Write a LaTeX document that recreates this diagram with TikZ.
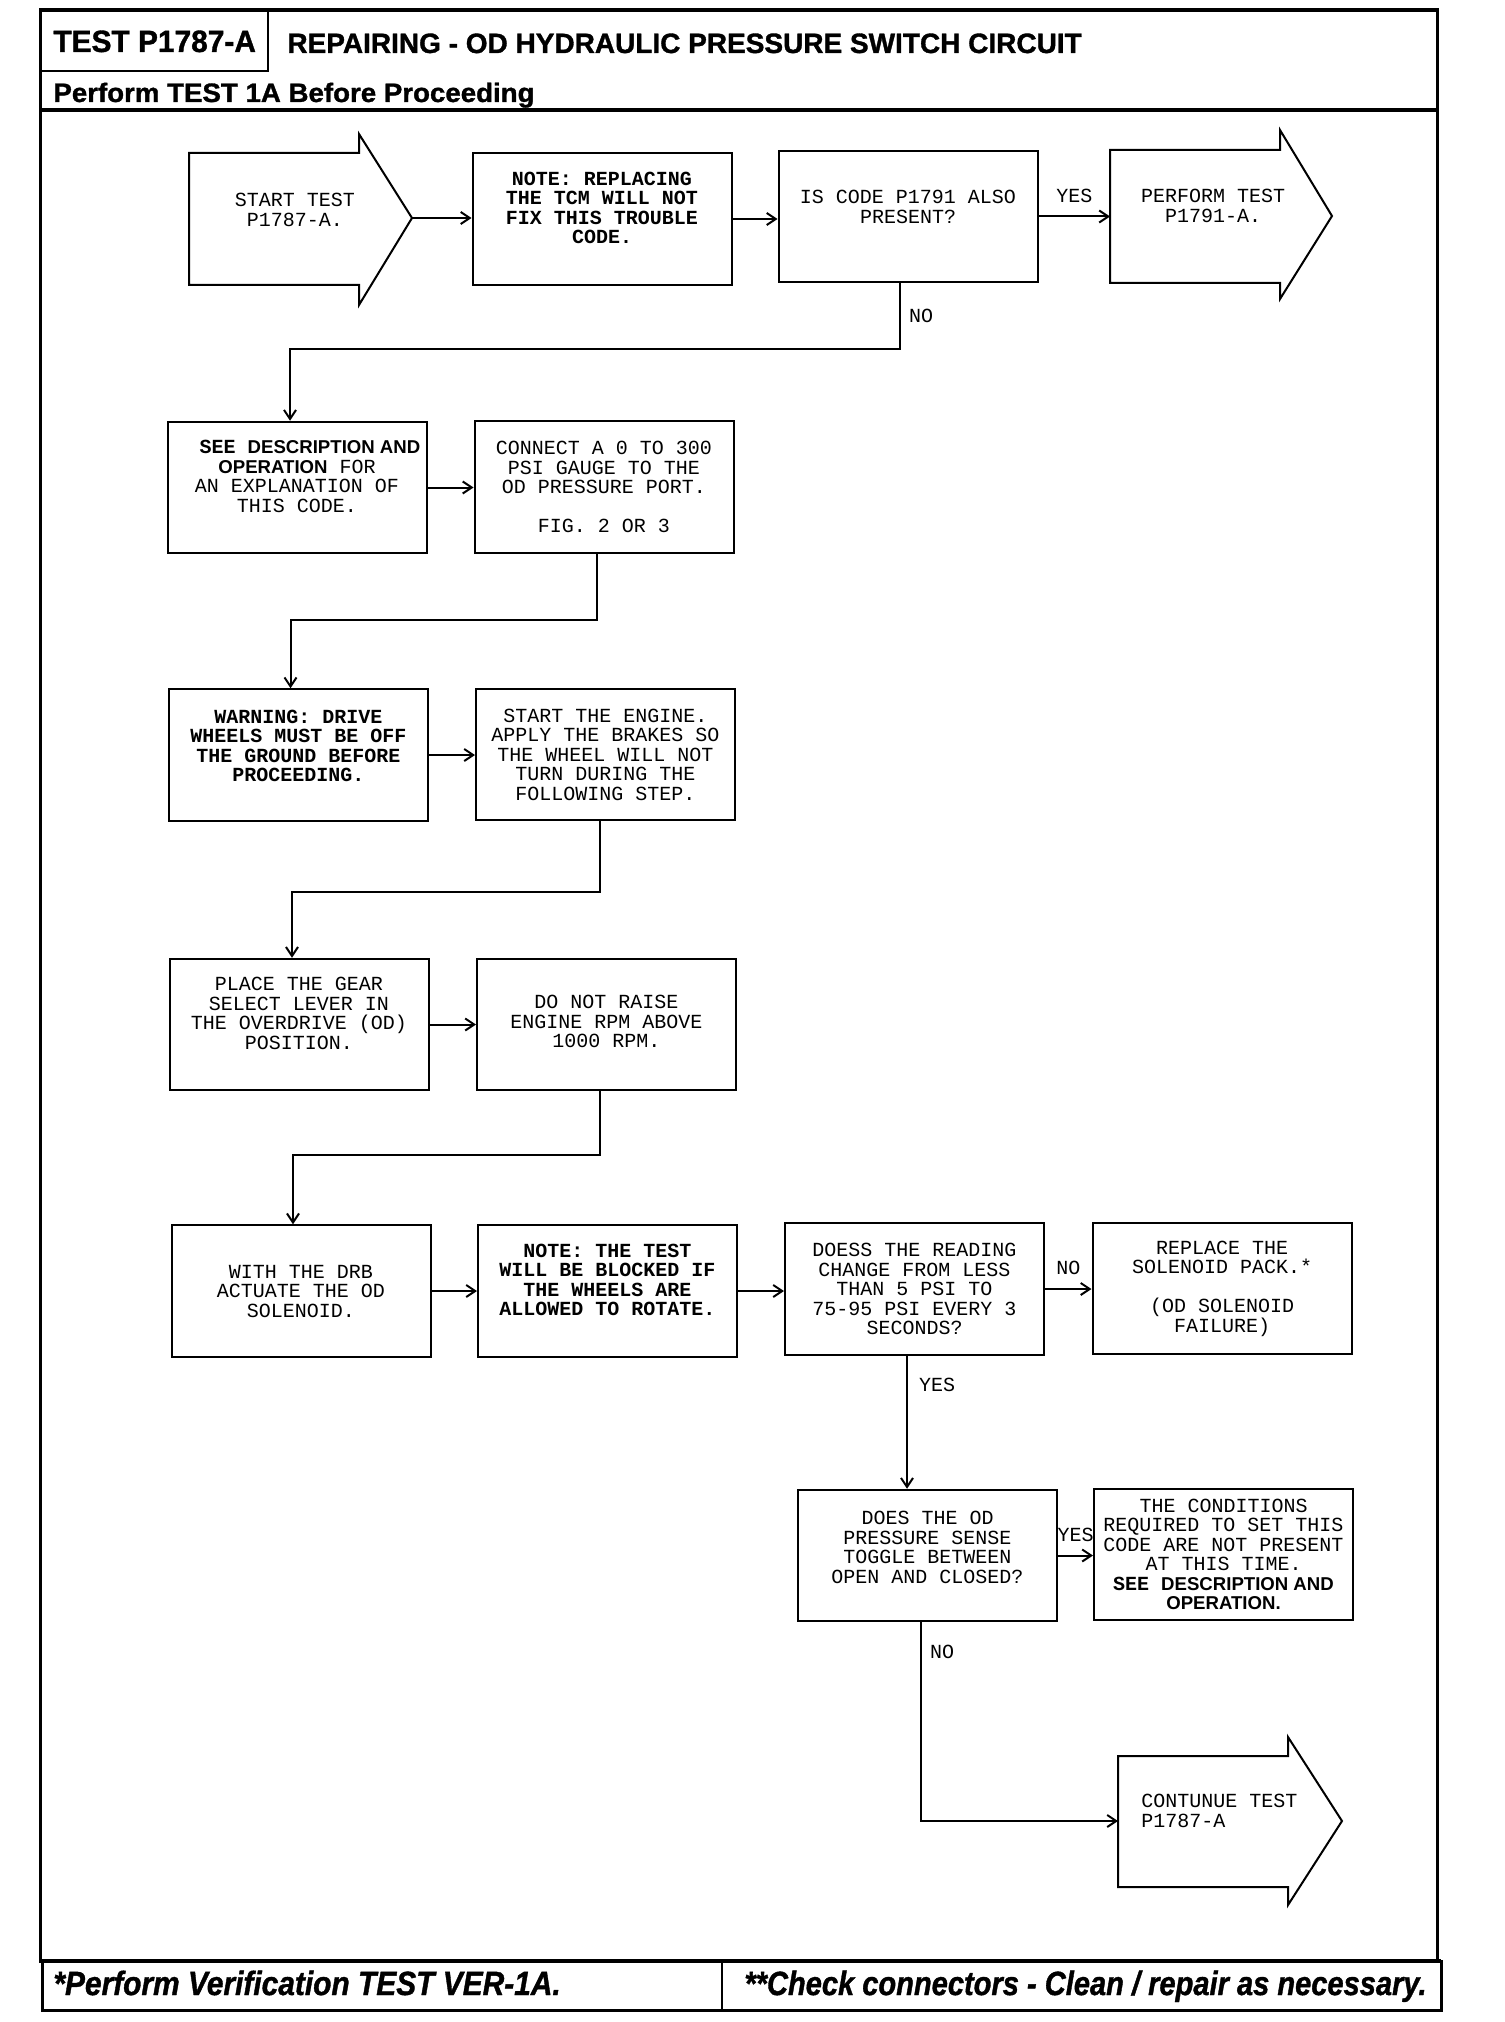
\documentclass[tikz,border=0pt]{standalone}
\usepackage{graphicx}
\usepackage{fontspec}
\newfontfamily\hdfont[FakeBold=1.2]{Liberation Sans}
\newfontfamily\sansfont{Liberation Sans}
\newfontfamily\boxfont{Liberation Mono}
\usetikzlibrary{arrows.meta}
\tikzset{>={Straight Barb[length=4.5pt,width=6pt]}}
\tikzset{
  box/.style={draw, line width=1pt, minimum width=129.5pt, minimum height=65.75pt,
    inner sep=0pt, align=center, font=\boxfont\fontsize{10}{9.75}\selectfont},
  notebox/.style={box, font=\boxfont\bfseries\fontsize{10}{9.75}\selectfont},
  lift/.style={text depth=#1},
  txt/.style={inner sep=0pt, font=\boxfont\fontsize{10}{9.75}\selectfont},
  lbl/.style={inner sep=2pt, font=\boxfont\fontsize{10}{10}\selectfont},
  link/.style={->, line width=1pt},
  bigarrow/.style={draw, line width=1pt},
  head/.style={anchor=base west, inner sep=0pt, font=\hdfont\bfseries\fontsize{#1}{#1}\selectfont},
}
\newcommand\hdsans[1]{{\sansfont\bfseries\fontsize{9.3}{9.75}\selectfont #1}}

\begin{document}
\begin{tikzpicture}[x=0.5pt,y=-0.5pt]
\useasboundingbox (0,0) rectangle (1504,2022);
% frame and header
\draw[line width=1.5pt] (40,10) rectangle (1437,1961);
\draw[line width=2pt] (40,10) -- (1437,10);
\draw[line width=1pt] (40,71) -- (268,71) -- (268,10);
\draw[line width=2pt] (40,110) -- (1437,110);
\node[head=15.4] (testid) at (53,52) {\scalebox{0.97}[1]{TEST P1787-A}};
\node[head=14] (title) at (287,53) {REPAIRING - OD HYDRAULIC PRESSURE SWITCH CIRCUIT};
\node[head=13.3] (pretest) at (53,102) {\scalebox{1.04}[1]{Perform TEST 1A Before Proceeding}};
% footer
\draw[line width=1.5pt] (42,1961) rectangle (1441,2010);
\draw[line width=2pt] (42,1961) -- (1441,1961);
\draw[line width=1pt] (722,1961) -- (722,2010);
\node[head=16.8] (verify) at (53,1995) {\itshape\scalebox{0.89}[1]{*Perform Verification TEST VER-1A.}};
\node[head=16.8] (check) at (744,1995) {\itshape\scalebox{0.865}[1]{**Check connectors - Clean / repair as necessary.}};

% first row
\draw[bigarrow] (189,153) -- (359,153) -- (359,134) -- (412,218) -- (359,305) -- (359,285) -- (189,285) -- cycle;
\node[txt, align=center] (start) at (295,210) {START TEST\\P1787-A.};
\coordinate (starttip) at (412,218);
\node[notebox, lift=11pt] (note) at (602,219) {NOTE: REPLACING\\THE TCM WILL NOT\\FIX THIS TROUBLE\\CODE.};
\node[box, lift=9.5pt] (code) at (908,216.5) {IS CODE P1791 ALSO\\PRESENT?};
\draw[bigarrow] (1110,150) -- (1280,150) -- (1280,130) -- (1332,216) -- (1280,299) -- (1280,283) -- (1110,283) -- cycle;
\node[txt, align=center] (perform) at (1213,206) {PERFORM TEST\\P1791-A.};
\coordinate (performin) at (1110,216.5);

% second row
\node[box, lift=11pt] (see) at (297,487.5) {\hspace*{13pt}{\bfseries SEE} \hdsans{DESCRIPTION AND}\\\hdsans{OPERATION} FOR\hspace*{43pt}\\AN EXPLANATION OF\\THIS CODE.};
\node[box] (connect) at (604,487) {CONNECT A 0 TO 300\\PSI GAUGE TO THE\\OD PRESSURE PORT.\\[9.75pt]FIG. 2 OR 3};

% third row
\node[notebox, lift=9pt] (warn) at (298.5,755) {WARNING: DRIVE\\WHEELS MUST BE OFF\\THE GROUND BEFORE\\PROCEEDING.};
\node[box] (engine) at (605.5,754.5) {START THE ENGINE.\\APPLY THE BRAKES SO\\THE WHEEL WILL NOT\\TURN DURING THE\\FOLLOWING STEP.};

% fourth row
\node[box, lift=11pt] (place) at (299,1024.5) {PLACE THE GEAR\\SELECT LEVER IN\\THE OVERDRIVE (OD)\\POSITION.};
\node[box, lift=3pt] (rpm) at (606.5,1024.5) {DO NOT RAISE\\ENGINE RPM ABOVE\\1000 RPM.};

% fifth row
\node[box] (drb) at (301,1291) {WITH THE DRB\\ACTUATE THE OD\\SOLENOID.};
\node[notebox, lift=11pt] (wheels) at (607.5,1291) {NOTE: THE TEST\\WILL BE BLOCKED IF\\THE WHEELS ARE\\ALLOWED TO ROTATE.};
\node[box] (reading) at (914.5,1289) {DOESS THE READING\\CHANGE FROM LESS\\THAN 5 PSI TO\\75-95 PSI EVERY 3\\SECONDS?};
\node[box] (solenoid) at (1222,1288.5) {REPLACE THE\\SOLENOID PACK.*\\[9.75pt](OD SOLENOID\\FAILURE)};

% sixth row
\node[box, lift=8pt] (sense) at (927.5,1555.5) {DOES THE OD\\PRESSURE SENSE\\TOGGLE BETWEEN\\OPEN AND CLOSED?};
\node[box] (cond) at (1223.5,1554.5) {THE CONDITIONS\\REQUIRED TO SET THIS\\CODE ARE NOT PRESENT\\AT THIS TIME.\\{\bfseries SEE} \hdsans{DESCRIPTION AND}\hspace*{11pt}\\\hdsans{OPERATION.}};
\draw[bigarrow] (1118,1756) -- (1288,1756) -- (1288,1737) -- (1342,1821) -- (1288,1905) -- (1288,1887) -- (1118,1887) -- cycle;
\node[txt, align=left, anchor=west] (contin) at (1141,1811) {CONTUNUE TEST\\P1787-A};
\coordinate (continin) at (1118,1821);

% connectors
\draw[link] (starttip) -- (starttip -| note.west);
\draw[link] (note.east) -- (note.east -| code.west);
\draw[link] (code.east) -- node[lbl, above=4.5pt] {YES} (performin);
\draw[link] ([xshift=-4pt]code.south) -- node[lbl, right=2pt] {NO} ++(0,66) -| ([xshift=-3.5pt]see.north);
\draw[link] (see.east) -- (see.east -| connect.west);
\draw[link] ([xshift=-3.5pt]connect.south) -- ++(0,66) -| ([xshift=-4pt]warn.north);
\draw[link] (warn.east) -- (warn.east -| engine.west);
\draw[link] ([xshift=-3pt]engine.south) -- ++(0,71) -| ([xshift=-3.5pt]place.north);
\draw[link] (place.east) -- (place.east -| rpm.west);
\draw[link] ([xshift=-3.5pt]rpm.south) -- ++(0,64) -| ([xshift=-4pt]drb.north);
\draw[link] (drb.east) -- (drb.east -| wheels.west);
\draw[link] (wheels.east) -- (wheels.east -| reading.west);
\draw[link] (reading.east) -- node[lbl, above=4.5pt] {NO} (reading.east -| solenoid.west);
\draw[link] ([xshift=-3.75pt]reading.south) -- node[lbl, right=3.5pt, pos=0.22] {YES} ([xshift=-3.75pt]reading.south |- sense.north);
\draw[link] (sense.east) -- node[lbl, above=4.5pt] {YES} (sense.east -| cond.west);
\draw[link] ([xshift=-3.25pt]sense.south) |- node[lbl, right=2pt, pos=0.075] {NO} (continin);
\end{tikzpicture}
\end{document}
